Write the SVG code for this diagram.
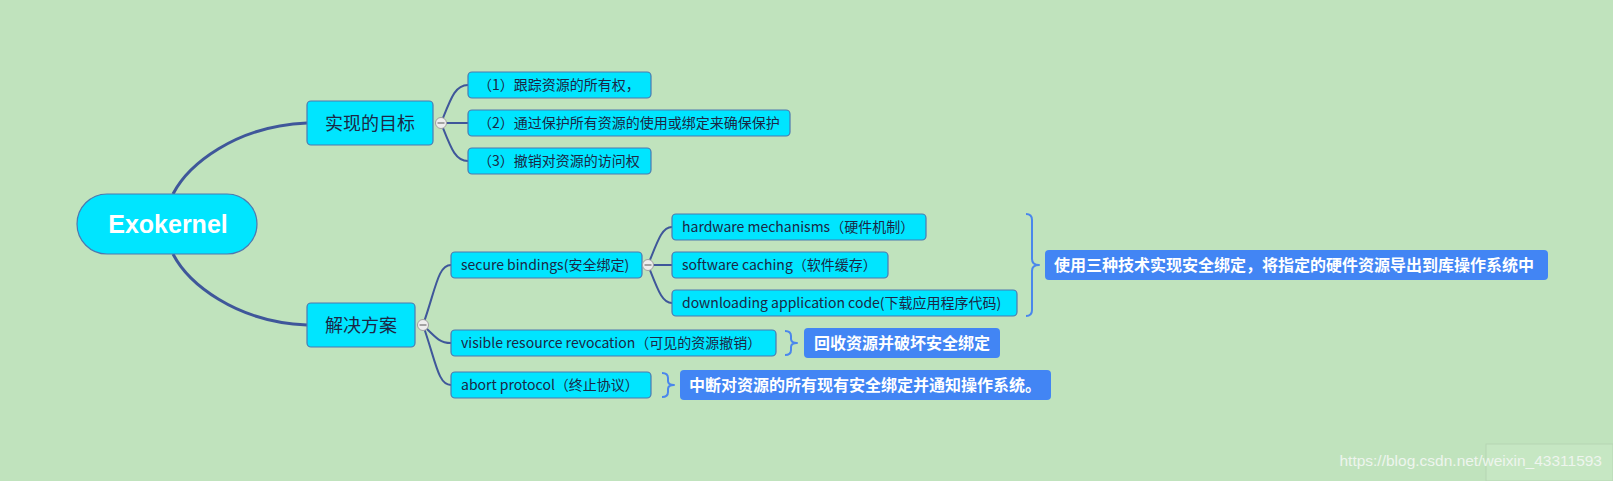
<svg xmlns="http://www.w3.org/2000/svg" width="1613" height="481" viewBox="0 0 1613 481">
<style>
.bg{fill:#c0e3bd}
.node{fill:#00e5ff;stroke:#4d79b0;stroke-width:1.2}
.t{font-family:"Noto Sans CJK SC","Liberation Sans",sans-serif;fill:#1c2745}
.sm{font-size:14px}
.md{font-size:18px}
.root{font-family:"Liberation Sans","Noto Sans CJK SC",sans-serif;font-weight:bold;font-size:25px;fill:#ffffff}
.conn{fill:none;stroke:#3f579a;stroke-width:2}
.main{fill:none;stroke:#3f579a;stroke-width:3}
.tog{fill:#eeeeee;stroke:#a0a0a0;stroke-width:1}
.togm{stroke:#909090;stroke-width:1.6}
.brace{fill:none;stroke:#4a87ec;stroke-width:2;stroke-linejoin:round}
.call{fill:#4285f4}
.ct{font-family:"Noto Sans CJK SC",sans-serif;font-weight:bold;font-size:16px;fill:#ffffff}
.wm{font-family:"Liberation Sans",sans-serif;font-size:15.5px;fill:#eef5ee}
</style>
<rect class="bg" x="0" y="0" width="1613" height="481"/>
<rect x="1486" y="444" width="127" height="37" fill="#c6e7c3" stroke="#b6d6b3" stroke-width="1"/>

<g id="connectors">
  <path class="main" d="M173,194 C188,165 235,126 307,123"/>
  <path class="main" d="M173,254 C188,283 235,322 307,325"/>
  <path class="conn" d="M441,123 C451,98 455,85 468,85"/>
  <path class="conn" d="M441,123 L468,123"/>
  <path class="conn" d="M441,123 C451,148 455,161 468,161"/>
  <path class="conn" d="M423,325 C436,288 438,265 451,265"/>
  <path class="conn" d="M423,325 C436,338 440,343 451,343"/>
  <path class="conn" d="M423,325 C436,362 438,385 451,385"/>
  <path class="conn" d="M648,265 C658,240 662,227 672,227"/>
  <path class="conn" d="M648,265 L672,265"/>
  <path class="conn" d="M648,265 C658,290 662,303 672,303"/>
</g>

<g id="root">
  <rect class="node" x="77" y="194" width="180" height="60" rx="30"/>
  <text class="root" x="168" y="233" text-anchor="middle">Exokernel</text>
</g>

<g id="goal">
  <rect class="node" x="307" y="101" width="126" height="44" rx="4"/>
  <text class="t md" x="370" y="129.5" text-anchor="middle">实现的目标</text>
  <circle class="tog" cx="441" cy="123" r="5.5"/>
  <line class="togm" x1="437.5" y1="123" x2="444.5" y2="123"/>
</g>
<g id="goal1">
  <rect class="node" x="468" y="72" width="183" height="26" rx="4"/>
  <text class="t sm" x="478" y="90">（1）跟踪资源的所有权，</text>
</g>
<g id="goal2">
  <rect class="node" x="468" y="110" width="322" height="26" rx="4"/>
  <text class="t sm" x="478" y="128">（2）通过保护所有资源的使用或绑定来确保保护</text>
</g>
<g id="goal3">
  <rect class="node" x="468" y="148" width="183" height="26" rx="4"/>
  <text class="t sm" x="478" y="166">（3）撤销对资源的访问权</text>
</g>

<g id="solution">
  <rect class="node" x="307" y="303" width="108" height="44" rx="4"/>
  <text class="t md" x="361" y="331.5" text-anchor="middle">解决方案</text>
  <circle class="tog" cx="423" cy="325" r="5.5"/>
  <line class="togm" x1="419.5" y1="325" x2="426.5" y2="325"/>
</g>
<g id="secure">
  <rect class="node" x="451" y="252" width="191" height="26" rx="4"/>
  <text class="t sm" x="461" y="270">secure bindings(安全绑定)</text>
  <circle class="tog" cx="648" cy="265" r="5.5"/>
  <line class="togm" x1="644.5" y1="265" x2="651.5" y2="265"/>
</g>
<g id="hardware">
  <rect class="node" x="672" y="214" width="254" height="26" rx="4"/>
  <text class="t sm" x="682" y="232">hardware mechanisms（硬件机制）</text>
</g>
<g id="software">
  <rect class="node" x="672" y="252" width="216" height="26" rx="4"/>
  <text class="t sm" x="682" y="270">software caching（软件缓存）</text>
</g>
<g id="downloading">
  <rect class="node" x="672" y="290" width="345" height="26" rx="4"/>
  <text class="t sm" x="682" y="308">downloading application code(下载应用程序代码)</text>
</g>
<g id="visible">
  <rect class="node" x="451" y="330" width="325" height="26" rx="4"/>
  <text class="t sm" x="461" y="348">visible resource revocation（可见的资源撤销）</text>
</g>
<g id="abort">
  <rect class="node" x="451" y="372" width="200" height="26" rx="4"/>
  <text class="t sm" x="461" y="390">abort protocol（终止协议）</text>
</g>

<g id="note-secure">
  <path class="brace" d="M1026,214 Q1032,214 1032,220 L1032,259 Q1032,265 1039,265 Q1032,265 1032,271 L1032,310 Q1032,316 1026,316"/>
  <rect class="call" x="1045" y="250" width="503" height="30" rx="4"/>
  <text class="ct" x="1054" y="270.5">使用三种技术实现安全绑定，将指定的硬件资源导出到库操作系统中</text>
</g>
<g id="note-visible">
  <path class="brace" d="M785,331 Q791,331 791,336 L791,339 Q791,343 797,343 Q791,343 791,347 L791,350 Q791,355 785,355"/>
  <rect class="call" x="804" y="328" width="196" height="30" rx="4"/>
  <text class="ct" x="814" y="348.5">回收资源并破坏安全绑定</text>
</g>
<g id="note-abort">
  <path class="brace" d="M662,373 Q668,373 668,378 L668,381 Q668,385 674,385 Q668,385 668,389 L668,392 Q668,397 662,397"/>
  <rect class="call" x="680" y="370" width="371" height="30" rx="4"/>
  <text class="ct" x="689" y="390.5">中断对资源的所有现有安全绑定并通知操作系统。</text>
</g>

<text class="wm" x="1602" y="466" text-anchor="end">https://blog.csdn.net/weixin_43311593</text>
</svg>
